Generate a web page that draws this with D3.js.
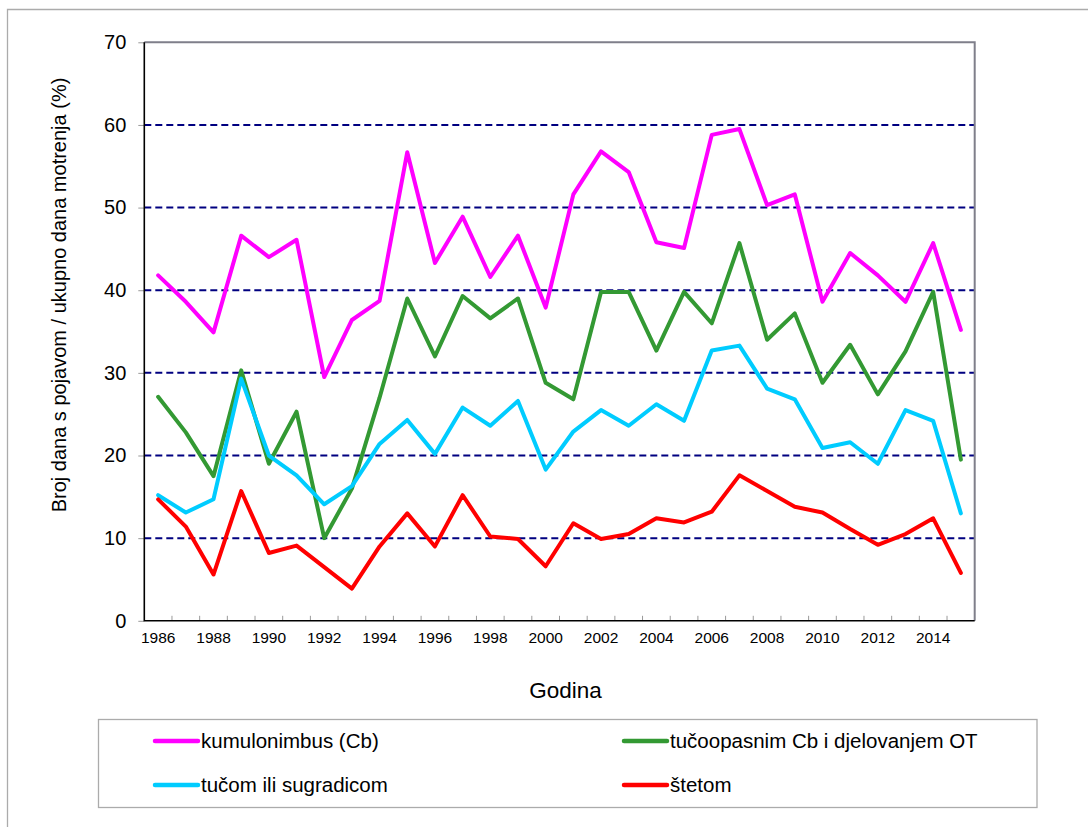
<!DOCTYPE html>
<html>
<head>
<meta charset="utf-8">
<script src="https://cdn.jsdelivr.net/npm/d3@7"></script>
<style>
  html, body { margin: 0; padding: 0; background: #fff; }
  svg { display: block; font-family: "Liberation Sans", Arial, sans-serif; }
</style>
</head>
<body>
<svg id="chart" width="1088" height="827"></svg>
<script>
const years = [1986,1987,1988,1989,1990,1991,1992,1993,1994,1995,1996,1997,1998,1999,2000,
               2001,2002,2003,2004,2005,2006,2007,2008,2009,2010,2011,2012,2013,2014,2015];
const tickYears = [1986,1988,1990,1992,1994,1996,1998,2000,2002,2004,2006,2008,2010,2012,2014];
const yTicks = [0,10,20,30,40,50,60,70];

const cbValues    = [41.8,38.6,34.9,46.6,44.0,46.1,29.5,36.4,38.7,56.7,43.3,48.9,41.6,46.6,37.9,
                     51.6,56.8,54.3,45.8,45.1,58.8,59.5,50.3,51.6,38.6,44.5,41.8,38.6,45.7,35.2];
const otValues    = [27.1,22.8,17.5,30.3,19.0,25.3,10.0,16.0,27.0,39.0,32.0,39.3,36.6,39.0,28.8,
                     26.8,39.8,39.8,32.7,39.8,36.0,45.7,34.0,37.2,28.8,33.4,27.4,32.6,39.8,19.5];
const tucaValues  = [15.2,13.1,14.7,29.3,20.0,17.6,14.1,16.3,21.4,24.3,20.2,25.8,23.6,26.6,18.3,
                     22.9,25.5,23.6,26.2,24.2,32.7,33.3,28.1,26.8,20.9,21.6,19.0,25.5,24.2,13.0];
const stetaValues = [14.7,11.4,5.6,15.7,8.2,9.1,6.5,3.9,9.0,13.0,9.0,15.2,10.2,9.9,6.6,
                     11.8,9.9,10.5,12.4,11.9,13.2,17.6,15.7,13.8,13.1,11.1,9.2,10.5,12.4,5.8];

const seriesNames  = ["kumulonimbus (Cb)", "tučoopasnim Cb i djelovanjem OT", "tučom ili sugradicom", "štetom"];
const seriesColors = ["#FF00FF", "#339933", "#00CCFF", "#FF0000"];
const seriesValues = [cbValues, otValues, tucaValues, stetaValues];

const xLabel = "Godina";
const yLabel = "Broj dana s pojavom / ukupno dana motrenja (%)";

const svg = d3.select("#chart");
const plot = { left: 144.3, right: 974.7, top: 42.3, bottom: 620.8 };

// outer frame
svg.append("path")
  .attr("d", `M7.5,830 V9.5 H1090`)
  .attr("fill", "none").attr("stroke", "#ababab").attr("stroke-width", 1.3);

const x = d3.scaleBand().domain(years).range([plot.left, plot.right]).padding(0);
const xc = d => x(d) + x.bandwidth() / 2;
const y = d3.scaleLinear().domain([0, 70]).range([plot.bottom, plot.top]);

// gridlines
svg.append("g").selectAll("line")
  .data(yTicks.filter(v => v > 0 && v < 70))
  .join("line")
  .attr("x1", plot.left).attr("x2", plot.right)
  .attr("y1", d => y(d)).attr("y2", d => y(d))
  .attr("stroke", "#000080").attr("stroke-width", 2)
  .attr("stroke-dasharray", "7,4");

// top & right border (gray)
svg.append("path")
  .attr("d", `M${plot.left},${y(70)} H${plot.right} V${plot.bottom}`)
  .attr("fill", "none").attr("stroke", "#7f7f8a").attr("stroke-width", 2);

// y axis
const yAxis = d3.axisLeft(y).tickValues(yTicks).tickSize(6).tickPadding(12);
const gy = svg.append("g").attr("transform", `translate(${plot.left},0)`).call(yAxis);
gy.select(".domain").remove();
gy.selectAll(".tick line").attr("stroke", "#999").attr("stroke-width", 1);
gy.selectAll(".tick text").attr("font-size", 20).attr("fill", "#000")
  .attr("font-family", "Liberation Sans, Arial, sans-serif");

// x axis labels
const xAxis = d3.axisBottom(x).tickValues(tickYears).tickSize(0).tickPadding(11);
const gx = svg.append("g").attr("transform", `translate(0,${plot.bottom})`).call(xAxis);
gx.select(".domain").remove();
gx.selectAll(".tick text").attr("font-size", 15.5).attr("fill", "#000")
  .attr("font-family", "Liberation Sans, Arial, sans-serif");

// x tick marks at band boundaries (inward)
svg.append("g").selectAll("line")
  .data(years.slice(1))
  .join("line")
  .attr("x1", d => x(d)).attr("x2", d => x(d))
  .attr("y1", plot.bottom).attr("y2", plot.bottom - 5)
  .attr("stroke", "#999").attr("stroke-width", 1);

// axis lines (black)
svg.append("path")
  .attr("d", `M${plot.left},${plot.top} V${plot.bottom} H${plot.right}`)
  .attr("fill", "none").attr("stroke", "#000").attr("stroke-width", 1.6);

// series lines
const line = d3.line().x((d, i) => xc(years[i])).y(d => y(d));
svg.append("g").selectAll("path")
  .data(seriesValues)
  .join("path")
  .attr("d", d => line(d))
  .attr("fill", "none")
  .attr("stroke", (d, i) => seriesColors[i])
  .attr("stroke-width", 4)
  .attr("stroke-linejoin", "round")
  .attr("stroke-linecap", "round");

// axis titles
svg.append("text")
  .attr("x", (plot.left + plot.right) / 2 + 6).attr("y", 698)
  .attr("text-anchor", "middle").attr("font-size", 22.5).attr("fill", "#000")
  .text(xLabel);

svg.append("text")
  .attr("transform", `translate(66,295) rotate(-90)`)
  .attr("text-anchor", "middle").attr("font-size", 20).attr("fill", "#000")
  .text(yLabel);

// legend
svg.append("rect")
  .attr("x", 98.5).attr("y", 719.5).attr("width", 938.5).attr("height", 88)
  .attr("fill", "#fff").attr("stroke", "#ababab").attr("stroke-width", 1.3);

const legendPos = [[155, 741], [624, 741], [155, 785], [624, 785]];
const lg = svg.append("g").selectAll("g")
  .data(seriesNames)
  .join("g")
  .attr("transform", (d, i) => `translate(${legendPos[i][0]},${legendPos[i][1]})`);
lg.append("line")
  .attr("x1", 0).attr("x2", 43).attr("y1", 0).attr("y2", 0)
  .attr("stroke", (d, i) => seriesColors[i]).attr("stroke-width", 4.5)
  .attr("stroke-linecap", "round");
lg.append("text")
  .attr("x", 46).attr("y", 0).attr("dy", "0.35em")
  .attr("font-size", 20.5).attr("fill", "#000")
  .text(d => d);
</script>
</body>
</html>
